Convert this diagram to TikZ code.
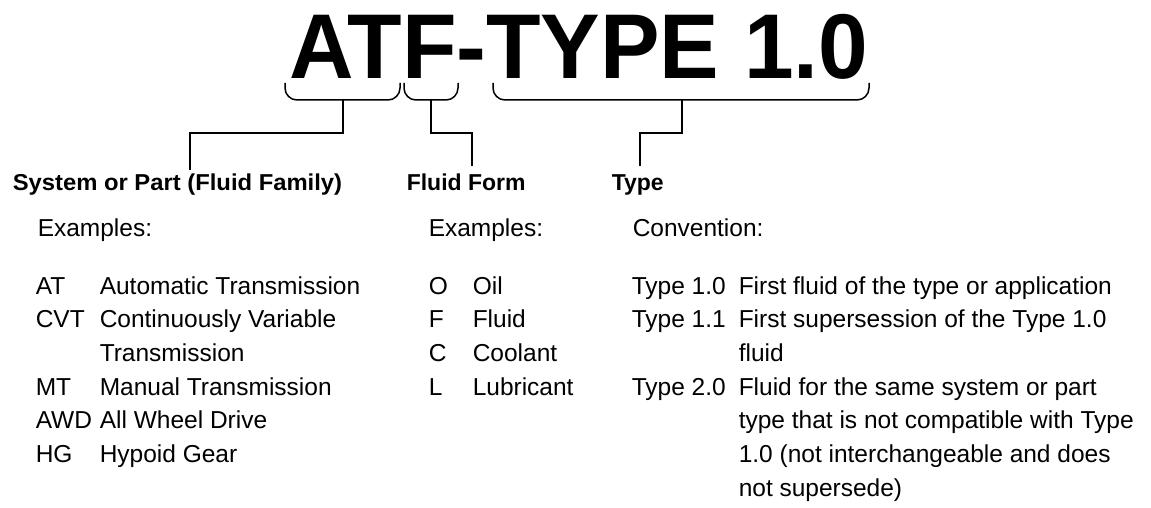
\documentclass[tikz,border=0pt]{standalone}
\usepackage{fontspec}
\setmainfont{Liberation Sans}
\usetikzlibrary{calc}

\begin{document}
\begin{tikzpicture}[x=1pt, y=-1pt, line width=1.5pt,
    txt/.style={anchor=base west, inner sep=0pt, font=\fontsize{24.5}{24.5}\selectfont},
    head/.style={anchor=base west, inner sep=0pt, font=\fontsize{23}{23}\selectfont\bfseries},
    brace/.style={rounded corners=12pt}]
    \useasboundingbox (0,0) rectangle (1151,508);

    % the code itself
    \node[anchor=base west, inner sep=0pt, font=\fontsize{92}{92}\selectfont\bfseries, xscale=0.97] (title) at (289,79) {ATF-TYPE 1.0};

    % braces under the code
    \draw[brace] (285,83) -- (285,100) -- (400,100) -- (400,83);
    \draw[brace] (404,83) -- (404,100) -- (458,100) -- (458,83);
    \draw[brace] (493,83) -- (493,100) -- (869,100) -- (869,83);
    \coordinate (bSys) at (343,100);
    \coordinate (bForm) at (431,100);
    \coordinate (bType) at (682,100);

    % headings
    \node[head, xscale=1.035] (sys) at (12,190) {System or Part (Fluid Family)};
    \node[head] (form) at (406,190) {Fluid Form};
    \node[head] (type) at (611,190) {Type};
    \coordinate (tSys) at (190,170);
    \coordinate (tForm) at (472,166);
    \coordinate (tType) at (640,166);

    \draw (bSys) -- ++(0,33) -| (tSys);
    \draw (bForm) -- ++(0,33) -| (tForm);
    \draw (bType) -- ++(0,33) -| (tType);

    % system or part
    \node[txt] (sysEx) at (37,236) {Examples:};
    \node[txt] (at) at (35,294) {AT};
    \node[txt] (atD) at (99,294) {Automatic Transmission};
    \node[txt] (cvt) at (35,327.5) {CVT};
    \node[txt] (cvtD) at (99,327.5) {Continuously Variable};
    \node[txt] (cvtD2) at (99,361) {Transmission};
    \node[txt] (mt) at (35,395) {MT};
    \node[txt] (mtD) at (99,395) {Manual Transmission};
    \node[txt] (awd) at (35,428.5) {AWD};
    \node[txt] (awdD) at (99,428.5) {All Wheel Drive};
    \node[txt] (hg) at (35,462) {HG};
    \node[txt] (hgD) at (99,462) {Hypoid Gear};

    % fluid form
    \node[txt] (formEx) at (428,236) {Examples:};
    \node[txt] (o) at (428,294) {O};
    \node[txt] (oD) at (472,294) {Oil};
    \node[txt] (f) at (428,327.5) {F};
    \node[txt] (fD) at (472,327.5) {Fluid};
    \node[txt] (c) at (428,361) {C};
    \node[txt] (cD) at (472,361) {Coolant};
    \node[txt] (l) at (428,395) {L};
    \node[txt] (lD) at (472,395) {Lubricant};

    % type
    \node[txt] (conv) at (632,236) {Convention:};
    \node[txt] (t10) at (631,294) {Type 1.0};
    \node[txt] (t10D) at (738,294) {First fluid of the type or application};
    \node[txt] (t11) at (631,327.5) {Type 1.1};
    \node[txt] (t11D) at (738,327.5) {First supersession of the Type 1.0};
    \node[txt] (t11D2) at (738,361) {fluid};
    \node[txt] (t20) at (631,395) {Type 2.0};
    \node[txt] (t20D) at (738,395) {Fluid for the same system or part};
    \node[txt] (t20D2) at (738,428.5) {type that is not compatible with Type};
    \node[txt] (t20D3) at (738,462) {1.0 (not interchangeable and does};
    \node[txt] (t20D4) at (738,496) {not supersede)};
\end{tikzpicture}
\end{document}
